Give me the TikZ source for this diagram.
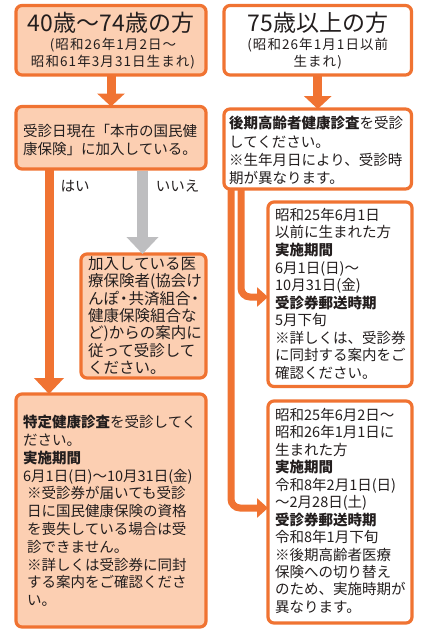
\documentclass[tikz,border=0pt]{standalone}
\usepackage{fontspec}
\setmainfont{Noto Sans CJK JP}
\usetikzlibrary{arrows.meta,calc}
\definecolor{orn}{RGB}{240,115,50}
\definecolor{pch}{RGB}{252,207,178}
\definecolor{gry}{RGB}{190,190,192}
\definecolor{ink}{RGB}{35,30,30}
\newcommand{\ndot}{\makebox[0.6em]{・}}
\begin{document}
\begin{tikzpicture}[x=1pt,y=-1pt,
  box/.style={draw=orn, line width=3.2pt, rounded corners=6pt, anchor=north west, inner sep=0pt, outer sep=0pt},
  pbox/.style={box, fill=pch},
  wbox/.style={box, fill=white},
  ttl/.style={inner sep=0pt, text=ink, font=\fontsize{23}{27}\selectfont},
  sub/.style={inner sep=0pt, text=ink, align=center, font=\fontsize{13.5}{17}\selectfont\addfontfeature{LetterSpace=8}},
  txt/.style={inner sep=0pt, text=ink, align=left, anchor=north west},
  lbl/.style={inner sep=0pt, text=ink, font=\fontsize{14.5}{17}\selectfont},
  downarr/.style={draw=orn, line width=9pt, -{Triangle[width=27pt,length=13pt]}},
  yesarr/.style={draw=orn, line width=9pt, -{Triangle[width=29pt,length=16pt]}},
  noarr/.style={draw=gry, line width=11pt, -{Triangle[width=31pt,length=17pt]}},
  rarr/.style={draw=orn, line width=7pt, rounded corners=9pt, -{Triangle[width=19pt,length=11pt]}},
]
\useasboundingbox (0,0) rectangle (422,635);
% boxes
\node[pbox, minimum width=190pt, minimum height=69.5pt] (A) at (16,5.5) {};
\node[wbox, minimum width=187.5pt, minimum height=69.5pt] (B) at (224,5.5) {};
\node[pbox, minimum width=190pt, minimum height=62.5pt] (C) at (16,106.5) {};
\node[wbox, minimum width=187.5pt, minimum height=80pt] (D) at (224,109) {};
\node[pbox, minimum width=125pt, minimum height=124pt] (E) at (81,254) {};
\node[pbox, minimum width=190pt, minimum height=233pt] (F) at (16,394) {};
\node[wbox, minimum width=144pt, minimum height=184.5pt] (G) at (268,202) {};
\node[wbox, minimum width=144pt, minimum height=222pt] (H) at (268,401) {};
% titles
\node[ttl] (At) at (111,23) {40歳〜74歳の方};
\node[sub] (As) at (113,53.5) {(昭和26年1月2日〜\\昭和61年3月31日生まれ)};
\node[ttl] (Bt) at (317.75,23) {75歳以上の方};
\node[sub] (Bs) at (317.75,53.5) {(昭和26年1月1日以前\\生まれ)};
% texts
\node[txt, font=\fontsize{14.5}{18}\selectfont] (Ct) at (23,124.5) {受診日現在「本市の国民健\\康保険」に加入している。};
\node[txt, font=\fontsize{14.5}{18.4}\selectfont] (Dt) at (229,116) {\textbf{後期高齢者健康診査}を受診\\してください。\\※生年月日により、受診時\\期が異なります。};
\node[txt, font=\fontsize{15.5}{17.3}\selectfont] (Et) at (88,256.5) {加入している医\\療保険者(協会け\\んぽ\ndot 共済組合\ndot\\健康保険組合な\\ど)からの案内に\\従って受診して\\ください。};
\node[txt, font=\fontsize{14.5}{17.8}\selectfont] (Ft) at (23,415) {\textbf{特定健康診査}を受診してく\\ださい。\\\textbf{実施期間}\\6月1日(日)〜10月31日(金)\\\hspace{4pt}※受診券が届いても受診\\\hspace{4pt}日に国民健康保険の資格\\\hspace{4pt}を喪失している場合は受\\\hspace{4pt}診できません。\\\hspace{4pt}※詳しくは受診券に同封\\\hspace{4pt}する案内をご確認くださ\\\hspace{4pt}い。};
\node[txt, font=\fontsize{14.5}{17.55}\selectfont] (Gt) at (275,208) {昭和25年6月1日\\以前に生まれた方\\\textbf{実施期間}\\6月1日(日)〜\\10月31日(金)\\\textbf{受診券郵送時期}\\5月下旬\\※詳しくは、受診券\\に同封する案内をご\\確認ください。};
\node[txt, font=\fontsize{14.5}{17.45}\selectfont] (Ht) at (275,408) {昭和25年6月2日〜\\昭和26年1月1日に\\生まれた方\\\textbf{実施期間}\\令和8年2月1日(日)\\〜2月28日(土)\\\textbf{受診券郵送時期}\\令和8年1月下旬\\※後期高齢者医療\\保険への切り替え\\のため、実施時期が\\異なります。};
% labels
\node[lbl] (yes) at (75,186) {はい};
\node[lbl] (no) at (177.5,186) {いいえ};
% connectors
\coordinate (yx) at (49,0);
\coordinate (nx) at (142.5,0);
\coordinate (r1) at (231,0);
\coordinate (r2) at (241,0);
\coordinate (ga) at (0,297);
\coordinate (ha) at (0,508);
\draw[downarr] (A.south) -- (C.north);
\draw[downarr] (B.south) -- (D.north);
\draw[yesarr] (C.south -| yx) -- (F.north -| yx);
\draw[noarr, shorten <=1.6pt] (C.south -| nx) -- (E.north -| nx);
\draw[rarr] (D.south -| r2) |- (G.west |- ga);
\draw[rarr] (D.south -| r1) |- (H.west |- ha);
\end{tikzpicture}
\end{document}
